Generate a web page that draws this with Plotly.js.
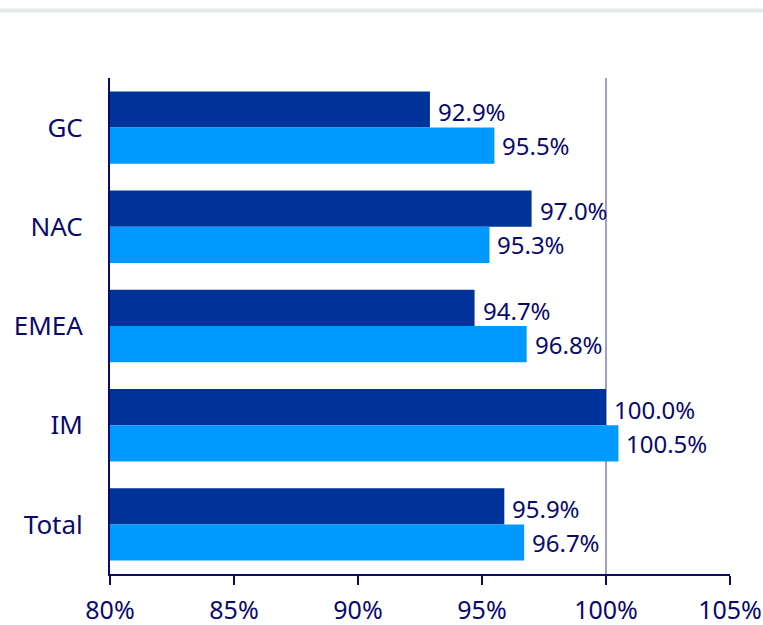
<!DOCTYPE html>
<html>
<head>
<meta charset="utf-8">
<script src="https://cdn.plot.ly/plotly-3.0.1.min.js"></script>
<style>
  html, body { margin: 0; padding: 0; background: #fff; }
  #chart { width: 763px; height: 625px; }
</style>
</head>
<body>
<div id="chart"></div>
<script>
const categories = ["GC", "NAC", "EMEA", "IM", "Total"];
const seriesDark = [92.9, 97.0, 94.7, 100.0, 95.9];
const seriesLight = [95.5, 95.3, 96.8, 100.5, 96.7];
const tickValues = [80, 85, 90, 95, 100, 105];
const tickLabels = ["80%", "85%", "90%", "95%", "100%", "105%"];

const navy = "#0a0a6b";
const font = "Noto Sans, Open Sans, sans-serif";

const traces = [
  { type: "bar", orientation: "h", y: categories, x: seriesDark,
    marker: { color: "#003399" }, hoverinfo: "none", showlegend: false },
  { type: "bar", orientation: "h", y: categories, x: seriesLight,
    marker: { color: "#0099ff" }, hoverinfo: "none", showlegend: false }
];

const annotations = [];
categories.forEach((c, i) => {
  annotations.push({ x: seriesDark[i], y: c, xref: "x", yref: "y",
    text: seriesDark[i].toFixed(1) + "%", showarrow: false,
    xanchor: "left", yanchor: "middle", xshift: 6, yshift: 16,
    font: { family: font, size: 24, color: navy } });
  annotations.push({ x: seriesLight[i], y: c, xref: "x", yref: "y",
    text: seriesLight[i].toFixed(1) + "%", showarrow: false,
    xanchor: "left", yanchor: "middle", xshift: 6, yshift: -18,
    font: { family: font, size: 24, color: navy } });
});

const layout = {
  width: 763, height: 625,
  margin: { l: 110, r: 33, t: 78, b: 51 },
  paper_bgcolor: "#ffffff", plot_bgcolor: "#ffffff",
  barmode: "group", bargap: 0.27, bargroupgap: 0,
  font: { family: font, color: navy },
  xaxis: {
    range: [80, 105], tickvals: tickValues, ticktext: tickLabels,
    showgrid: false, zeroline: false,
    showline: true, linecolor: navy, linewidth: 2,
    ticks: "outside", ticklen: 9, tickwidth: 2, tickcolor: navy,
    ticklabelstandoff: 4, ticklabeloverflow: "allow",
    tickfont: { family: font, size: 25, color: navy }, fixedrange: true
  },
  yaxis: {
    autorange: "reversed", showgrid: false, zeroline: false,
    showline: true, linecolor: navy, linewidth: 2, ticks: "",
    ticklabelstandoff: 20,
    tickfont: { family: font, size: 26, color: navy }, fixedrange: true
  },
  shapes: [
    { type: "line", xref: "x", yref: "paper", x0: 100, x1: 100, y0: 0, y1: 1,
      line: { color: "#8080c0", width: 1.5 }, layer: "below" },
    { type: "line", xref: "paper", yref: "paper",
      x0: -110 / 620, x1: 1 + 33 / 620, y0: 1 + (78 - 10.5) / 496, y1: 1 + (78 - 10.5) / 496,
      line: { color: "#e6eae8", width: 4 } }
  ],
  annotations: annotations
};

Plotly.newPlot("chart", traces, layout, { displayModeBar: false, staticPlot: true });
</script>
</body>
</html>
